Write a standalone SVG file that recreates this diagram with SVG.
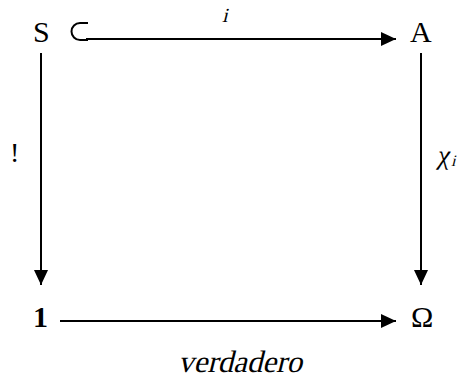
<svg xmlns="http://www.w3.org/2000/svg" width="461" height="385" viewBox="0 0 461 385">
<style>
.t{font-family:"Liberation Serif","Times New Roman",serif;font-size:30px;fill:#000}
.ln{stroke:#000;stroke-width:2;fill:none}
</style>
<defs>
<marker id="ah" markerWidth="16" markerHeight="14" refX="15" refY="7" orient="auto" markerUnits="userSpaceOnUse">
<path d="M0,0 L15,7 L0,14 Z" fill="#000"/>
</marker>
</defs>
<rect width="461" height="385" fill="#fff"/>
<g id="connectors">
<path class="ln" d="M88,23 L80,23 A8.5,8.5 0 0 0 80,40 L88,40"/>
<line class="ln" x1="86" y1="39" x2="396" y2="39" marker-end="url(#ah)"/>
<line class="ln" x1="41" y1="53" x2="41" y2="285" marker-end="url(#ah)"/>
<line class="ln" x1="421" y1="53" x2="421" y2="285" marker-end="url(#ah)"/>
<line class="ln" x1="60" y1="321" x2="396" y2="321" marker-end="url(#ah)"/>
</g>
<g id="label-i"><text class="t" transform="translate(222,22) skewX(-14)" style="font-size:20px">i</text></g>
<g id="label-bang"><text class="t" x="10" y="162" style="font-size:28px">!</text></g>
<g id="label-chi"><text class="t" transform="translate(437,164) skewX(-10)" style="font-size:27px">χ</text><text class="t" transform="translate(451,166) skewX(-14)" style="font-size:16px">i</text></g>
<g id="label-verdadero"><text class="t" transform="translate(178,372) skewX(-14)" style="font-size:31px">verdadero</text></g>
<g id="node-S"><text class="t" x="33" y="42">S</text></g>
<g id="node-A"><text class="t" x="410" y="42">A</text></g>
<g id="node-1"><text class="t" x="33" y="327" font-weight="bold">1</text></g>
<g id="node-Omega"><text class="t" x="411" y="327">Ω</text></g>
</svg>
